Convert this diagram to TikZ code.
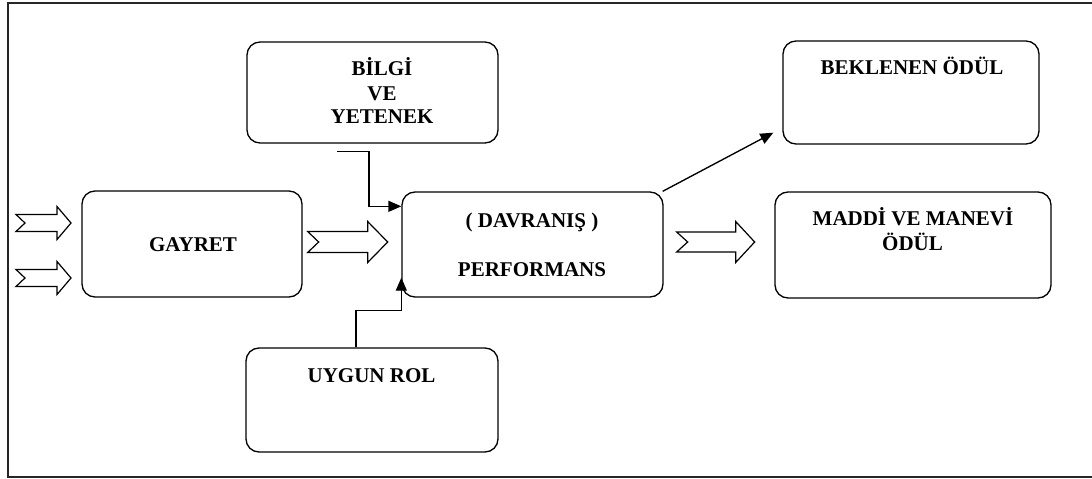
\documentclass[tikz,border=0pt]{standalone}
\usepackage{fontspec}
\setmainfont{Liberation Serif}
\usetikzlibrary{arrows.meta,calc}

\tikzset{
  box/.style={draw, rounded corners=13pt, line width=1.35pt, inner sep=0pt},
  lbl/.style={font=\bfseries\fontsize{21}{25}\selectfont, inner sep=0pt, anchor=base},
  link/.style={line width=1.35pt, -{Triangle[length=13pt,width=11pt]}},
  fat/.style={draw, line width=1.2pt, fill=white, line join=miter},
}

% hollow block arrow with notched tail:
% #1 tail coordinate, #2 length, #3 shaft half height, #4 head half height,
% #5 head length, #6 notch depth
\newcommand{\hollowarrow}[6]{%
  \draw[fat] ($(#1)+(0,-#3)$) -- ++(#2-#5,0) -- ++(0,#3-#4) -- ++(#5,#4)
    -- ++(-#5,#4) -- ++(0,#3-#4) -- ++(-#2+#5,0) -- ++(#6,-#3) -- cycle;}

\begin{document}
\begin{tikzpicture}[x=1pt,y=-1pt]
  \useasboundingbox (0,0) rectangle (1092,479);
  \draw[line width=1.6pt, black!85] (8,3) rectangle (1096,477);

  % boxes
  \node[box, minimum width=220pt, minimum height=106pt] (gayret) at (192,244) {};
  \node[box, minimum width=251pt, minimum height=101pt] (bilgi)  at (372.5,92.5) {};
  \node[box, minimum width=261pt, minimum height=105pt] (dav)    at (532.5,244.5) {};
  \node[box, minimum width=252pt, minimum height=104pt] (uygun)  at (372,400) {};
  \node[box, minimum width=256pt, minimum height=103pt] (bekl)   at (911,92.5) {};
  \node[box, minimum width=276pt, minimum height=106pt] (maddi)  at (913,245) {};

  % texts
  \node[lbl] (tg)  at (193,251) {GAYRET};
  \node[lbl] (tb1) at (382,75) {BİLGİ};
  \node[lbl] (tb2) at (382,100.5) {VE};
  \node[lbl] (tb3) at (382,123) {YETENEK};
  \node[lbl] (td1) at (532,227.5) {( DAVRANIŞ )};
  \node[lbl] (td2) at (532,276) {PERFORMANS};
  \node[lbl] (tu)  at (371.5,382.5) {UYGUN ROL};
  \node[lbl] (tk)  at (912,74) {BEKLENEN ÖDÜL};
  \node[lbl] (tm1) at (913,225) {MADDİ VE MANEVİ};
  \node[lbl] (tm2) at (912.5,250.5) {ÖDÜL};

  % thin connectors
  \coordinate (b1) at ($(bilgi.south)+(-35.5,8)$);
  \draw[link] (b1) -- ++(32,0) |- ([yshift=-15pt]dav.north west);
  \draw[link] ([xshift=-16pt]uygun.north) -- ++(0,-37) -| ([yshift=20pt]dav.south west);
  \draw[link] ([xshift=-1pt]dav.north east) -- ([xshift=-9pt,yshift=12pt]bekl.south west);

  % block arrows
  \coordinate (in1) at (16,223);
  \coordinate (in2) at (16,278);
  \coordinate (g2d) at ($(gayret.east)+(5,-2)$);
  \coordinate (d2m) at ($(dav.east)+(13,-2.5)$);
  \hollowarrow{in1}{55}{8.5}{16.5}{14}{9}
  \hollowarrow{in2}{55}{8.5}{16.5}{14}{9}
  \hollowarrow{g2d}{80}{10.5}{20.5}{20}{11}
  \hollowarrow{d2m}{78}{10}{20.5}{19}{11}
\end{tikzpicture}
\end{document}
